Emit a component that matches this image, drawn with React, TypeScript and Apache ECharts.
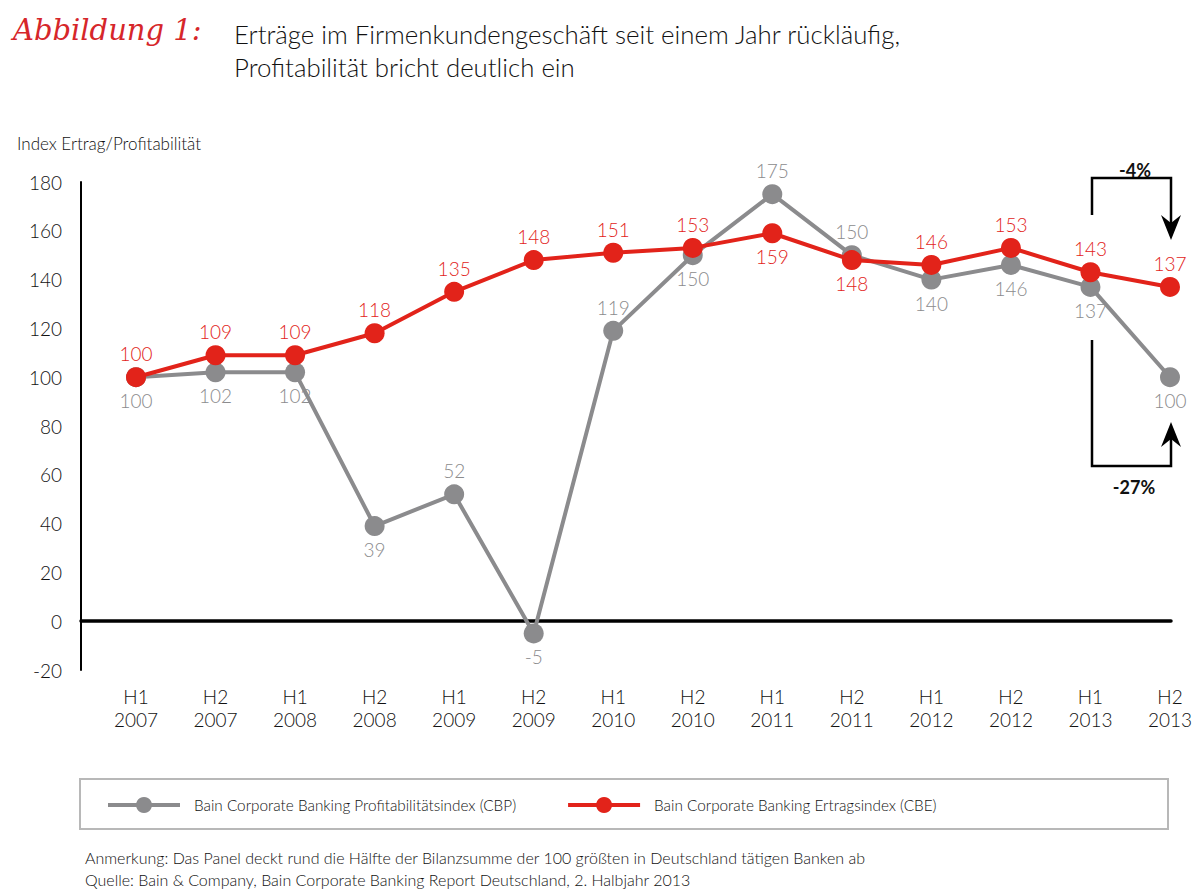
import React, { useEffect, useRef } from "react";
import * as echarts from "echarts";

const halves = ["H1", "H2", "H1", "H2", "H1", "H2", "H1", "H2", "H1", "H2", "H1", "H2", "H1", "H2"];
const years = ["2007", "2007", "2008", "2008", "2009", "2009", "2010", "2010", "2011", "2011", "2012", "2012", "2013", "2013"];
const categories = halves.map((h, i) => h + "\n" + years[i]);

const cbpName = "Bain Corporate Banking Profitabilitätsindex (CBP)";
const cbeName = "Bain Corporate Banking Ertragsindex (CBE)";
const cbpValues = [100, 102, 102, 39, 52, -5, 119, 150, 175, 150, 140, 146, 137, 100];
const cbeValues = [100, 109, 109, 118, 135, 148, 151, 153, 159, 148, 146, 153, 143, 137];
const cbpLabelPos = ["bottom", "bottom", "bottom", "bottom", "top", "bottom", "top", "bottom", "top", "top", "bottom", "bottom", "bottom", "bottom"];
const cbeLabelPos = ["top", "top", "top", "top", "top", "top", "top", "top", "bottom", "bottom", "top", "top", "top", "top"];

const yMin = -20;
const yMax = 180;
const yStep = 20;

const titleLead = "Abbildung 1:";
const titleText = "Erträge im Firmenkundengeschäft seit einem Jahr rückläufig,\nProfitabilität bricht deutlich ein";
const yAxisTitle = "Index Ertrag/Profitabilität";
const changeTop = "-4%";
const changeBottom = "-27%";
const noteText = "Anmerkung: Das Panel deckt rund die Hälfte der Bilanzsumme der 100 größten in Deutschland tätigen Banken ab";
const sourceText = "Quelle: Bain & Company, Bain Corporate Banking Report Deutschland, 2. Halbjahr 2013";

const FONT = "Lato, 'Open Sans', sans-serif";
const LIGHT = 300;
const RED = "#e2231a";
const GREY = "#8b8b8d";

function arrowHead(tipX: number, tipY: number, dir: number) {
  const back = 25 * dir;
  const notch = 17 * dir;
  return [
    [tipX, tipY],
    [tipX - 10, tipY - back],
    [tipX, tipY - notch],
    [tipX + 10, tipY - back],
  ];
}

export default function App() {
  const ref = useRef<HTMLDivElement>(null);
  useEffect(() => {
    if (!ref.current) return;
    const chart = echarts.init(ref.current, undefined, { renderer: "svg" });
    const labelBase = { show: true, fontFamily: FONT, fontWeight: LIGHT, fontSize: 19, distance: 4 };
    chart.setOption({
      animation: false,
      backgroundColor: "#ffffff",
      textStyle: { fontFamily: FONT },
      title: [
        { text: titleLead, left: 8, top: 10, textStyle: { fontFamily: "'DejaVu Serif', serif", fontStyle: "italic", fontWeight: "normal", fontSize: 29, color: "#d6262a" } },
        { text: titleText, left: 229, top: 12, textStyle: { fontFamily: FONT, fontWeight: LIGHT, fontSize: 25.8, lineHeight: 33, color: "#111" } },
        { text: yAxisTitle, left: 12, top: 130, textStyle: { fontFamily: FONT, fontWeight: LIGHT, fontSize: 17, color: "#111" } },
        { text: noteText, left: 80, top: 844, textStyle: { fontFamily: FONT, fontWeight: LIGHT, fontSize: 16, color: "#111" } },
        { text: sourceText, left: 80, top: 866, textStyle: { fontFamily: FONT, fontWeight: LIGHT, fontSize: 16, color: "#111" } },
      ],
      legend: {
        left: 101,
        top: 792,
        itemWidth: 72,
        itemHeight: 20,
        itemGap: 50,
        data: [cbpName, cbeName],
        lineStyle: { width: 4 },
        textStyle: { fontFamily: FONT, fontWeight: LIGHT, fontSize: 15.3, color: "#111", padding: [0, 0, 0, 9] },
      },
      grid: [
        { left: 136, right: 30, top: 182, bottom: 226 },
        { left: 81, right: 29, top: 182, bottom: 226 },
      ],
      xAxis: [
        {
          type: "category",
          gridIndex: 0,
          data: categories,
          boundaryGap: false,
          axisLine: { show: false, onZero: false },
          axisTick: { show: false },
          splitLine: { show: false },
          axisLabel: { fontFamily: FONT, fontWeight: LIGHT, fontSize: 19, lineHeight: 23, color: "#111", margin: 15, interval: 0 },
        },
        {
          type: "value",
          gridIndex: 1,
          min: 0,
          max: 1,
          axisLine: { show: true, onZero: true, lineStyle: { color: "#000", width: 3.5 } },
          axisTick: { show: false },
          axisLabel: { show: false },
          splitLine: { show: false },
        },
      ],
      yAxis: [
        { type: "value", gridIndex: 0, min: yMin, max: yMax, interval: yStep, show: false },
        {
          type: "value",
          gridIndex: 1,
          min: yMin,
          max: yMax,
          interval: yStep,
          axisLine: { show: true, lineStyle: { color: "#000", width: 2 } },
          axisTick: { show: false },
          splitLine: { show: false },
          axisLabel: { fontFamily: FONT, fontWeight: LIGHT, fontSize: 19, color: "#111", margin: 19 },
        },
      ],
      series: [
        {
          name: cbpName,
          type: "line",
          xAxisIndex: 0,
          yAxisIndex: 0,
          z: 2,
          symbol: "circle",
          symbolSize: 20,
          lineStyle: { color: GREY, width: 4 },
          itemStyle: { color: GREY },
          label: { ...labelBase, color: GREY },
          data: cbpValues.map((v, i) => ({ value: v, label: { position: cbpLabelPos[i] } })),
        },
        {
          name: cbeName,
          type: "line",
          xAxisIndex: 0,
          yAxisIndex: 0,
          z: 3,
          symbol: "circle",
          symbolSize: 20,
          lineStyle: { color: RED, width: 4 },
          itemStyle: { color: RED },
          label: { ...labelBase, color: RED },
          data: cbeValues.map((v, i) => ({ value: v, label: { position: cbeLabelPos[i] } })),
        },
      ],
      graphic: [
        { type: "rect", shape: { x: 80, y: 779, width: 1088, height: 50 }, style: { fill: "none", stroke: "#b8b8b8", lineWidth: 2 } },
        { type: "polyline", shape: { points: [[1092, 215], [1092, 178], [1171, 178], [1171, 225]] }, style: { fill: "none", stroke: "#000", lineWidth: 2.5 } },
        { type: "polygon", shape: { points: arrowHead(1171, 240, 1) }, style: { fill: "#000" } },
        { type: "polyline", shape: { points: [[1092, 340], [1092, 466], [1171, 466], [1171, 438]] }, style: { fill: "none", stroke: "#000", lineWidth: 2.5 } },
        { type: "polygon", shape: { points: arrowHead(1171, 422, -1) }, style: { fill: "#000" } },
        { type: "text", x: 1135, y: 170, style: { text: changeTop, fontFamily: FONT, fontWeight: "bold", fontSize: 18, fill: "#111", align: "center", verticalAlign: "middle" } },
        { type: "text", x: 1134, y: 487, style: { text: changeBottom, fontFamily: FONT, fontWeight: "bold", fontSize: 18, fill: "#111", align: "center", verticalAlign: "middle" } },
      ],
    });
    return () => chart.dispose();
  }, []);
  return <div ref={ref} style={{ position: "fixed", left: 0, top: 0, width: 1200, height: 896, background: "#fff" }} />;
}
